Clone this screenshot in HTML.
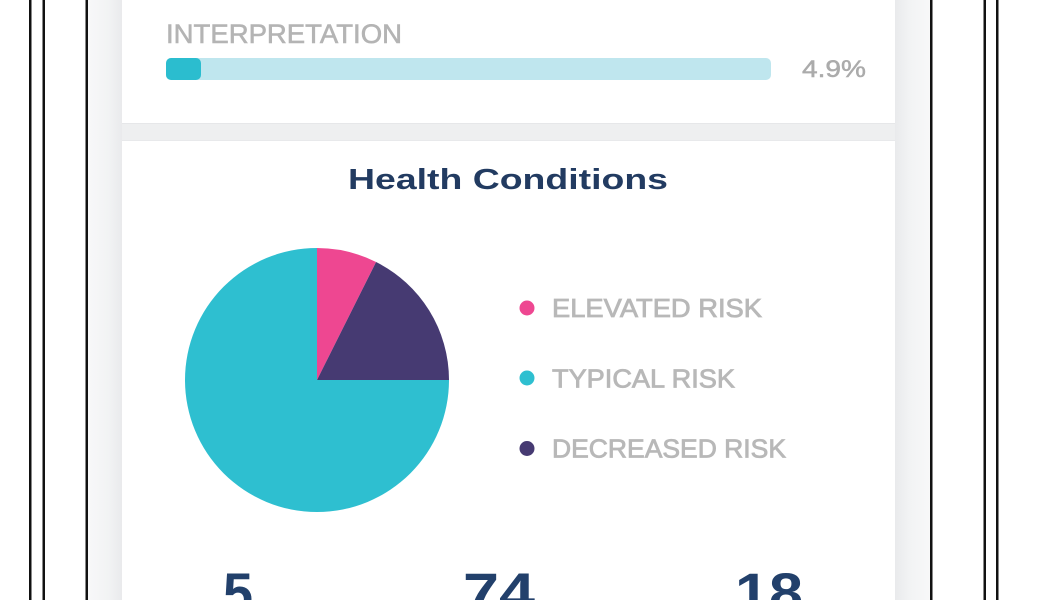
<!DOCTYPE html>
<html>
<head>
<meta charset="utf-8">
<style>
  html, body { margin:0; padding:0; background:#ffffff; }
  body { width:1050px; height:600px; overflow:hidden; }
  svg { display:block; }
  text { font-family: "Liberation Sans", "DejaVu Sans", sans-serif; }
</style>
</head>
<body>
<svg width="1050" height="600" viewBox="0 0 1050 600" xmlns="http://www.w3.org/2000/svg">
  <defs>
    <linearGradient id="gl" x1="0" x2="1" y1="0" y2="0">
      <stop offset="0" stop-color="#f8f8f9"/>
      <stop offset="0.6" stop-color="#f2f3f4"/>
      <stop offset="1" stop-color="#e9eaec"/>
    </linearGradient>
    <linearGradient id="gr" x1="1" x2="0" y1="0" y2="0">
      <stop offset="0" stop-color="#f8f8f9"/>
      <stop offset="0.6" stop-color="#f2f3f4"/>
      <stop offset="1" stop-color="#e9eaec"/>
    </linearGradient>
  </defs>

  <rect x="0" y="0" width="1050" height="600" fill="#ffffff"/>

  <rect x="88" y="0" width="843" height="600" fill="#eeeff0"/>
  <rect x="88" y="0" width="34" height="600" fill="url(#gl)"/>
  <rect x="895" y="0" width="36" height="600" fill="url(#gr)"/>

  <rect x="122" y="-10" width="773" height="133" fill="#ffffff"/>
  <rect x="122" y="141" width="773" height="470" fill="#ffffff"/>
  <line x1="122" y1="123.5" x2="895" y2="123.5" stroke="#e6e7e9" stroke-width="1"/>
  <line x1="122" y1="140.5" x2="895" y2="140.5" stroke="#e8e9eb" stroke-width="1"/>

  <rect x="29" y="0" width="2.5" height="600" fill="#111"/>
  <rect x="42.5" y="0" width="2.5" height="600" fill="#111"/>
  <rect x="85.5" y="0" width="2.5" height="600" fill="#111"/>
  <rect x="930" y="0" width="2.5" height="600" fill="#111"/>
  <rect x="983.5" y="0" width="2.5" height="600" fill="#111"/>
  <rect x="996" y="0" width="2.5" height="600" fill="#111"/>

  <text x="166" y="43" font-size="27" fill="#b4b4b4" stroke="#b4b4b4" stroke-width="0.6" textLength="236" lengthAdjust="spacingAndGlyphs">INTERPRETATION</text>
  <rect x="166" y="58" width="605" height="22" rx="5" ry="5" fill="#bfe6ee"/>
  <rect x="166" y="58" width="35" height="22" rx="5" ry="5" fill="#2bbdcf"/>
  <text x="802" y="77" font-size="24" fill="#ababab" stroke="#ababab" stroke-width="0.5" textLength="64" lengthAdjust="spacingAndGlyphs">4.9%</text>

  <text x="348" y="189" font-size="29" font-weight="bold" fill="#223b61" textLength="320" lengthAdjust="spacingAndGlyphs">Health Conditions</text>

  <path d="M317,380 L449,380 A132,132 0 1 1 317,248 Z" fill="#2ebfd0"/>
  <path d="M317,380 L317,248 A132,132 0 0 1 376.1,262 Z" fill="#ee4791"/>
  <path d="M317,380 L376.1,262 A132,132 0 0 1 449,380 Z" fill="#463a72"/>

  <circle cx="527" cy="308" r="7.5" fill="#ee4791"/>
  <circle cx="527" cy="378" r="7.5" fill="#2ebfd0"/>
  <circle cx="527" cy="448.5" r="7.5" fill="#463a72"/>
  <text x="552" y="317" font-size="26" fill="#b8b8b8" stroke="#b8b8b8" stroke-width="0.8" textLength="210" lengthAdjust="spacingAndGlyphs">ELEVATED RISK</text>
  <text x="552" y="387.5" font-size="26" fill="#b8b8b8" stroke="#b8b8b8" stroke-width="0.8" textLength="183" lengthAdjust="spacingAndGlyphs">TYPICAL RISK</text>
  <text x="552" y="457.5" font-size="26" fill="#b8b8b8" stroke="#b8b8b8" stroke-width="0.8" textLength="234" lengthAdjust="spacingAndGlyphs">DECREASED RISK</text>

  <text x="223" y="612" font-size="56" font-weight="bold" fill="#22406b" textLength="30" lengthAdjust="spacingAndGlyphs">5</text>
  <text x="463" y="612" font-size="56" font-weight="bold" fill="#22406b" textLength="72" lengthAdjust="spacingAndGlyphs">74</text>
  <text x="735" y="612" font-size="56" font-weight="bold" fill="#22406b" textLength="68" lengthAdjust="spacingAndGlyphs">18</text>
</svg>
</body>
</html>
